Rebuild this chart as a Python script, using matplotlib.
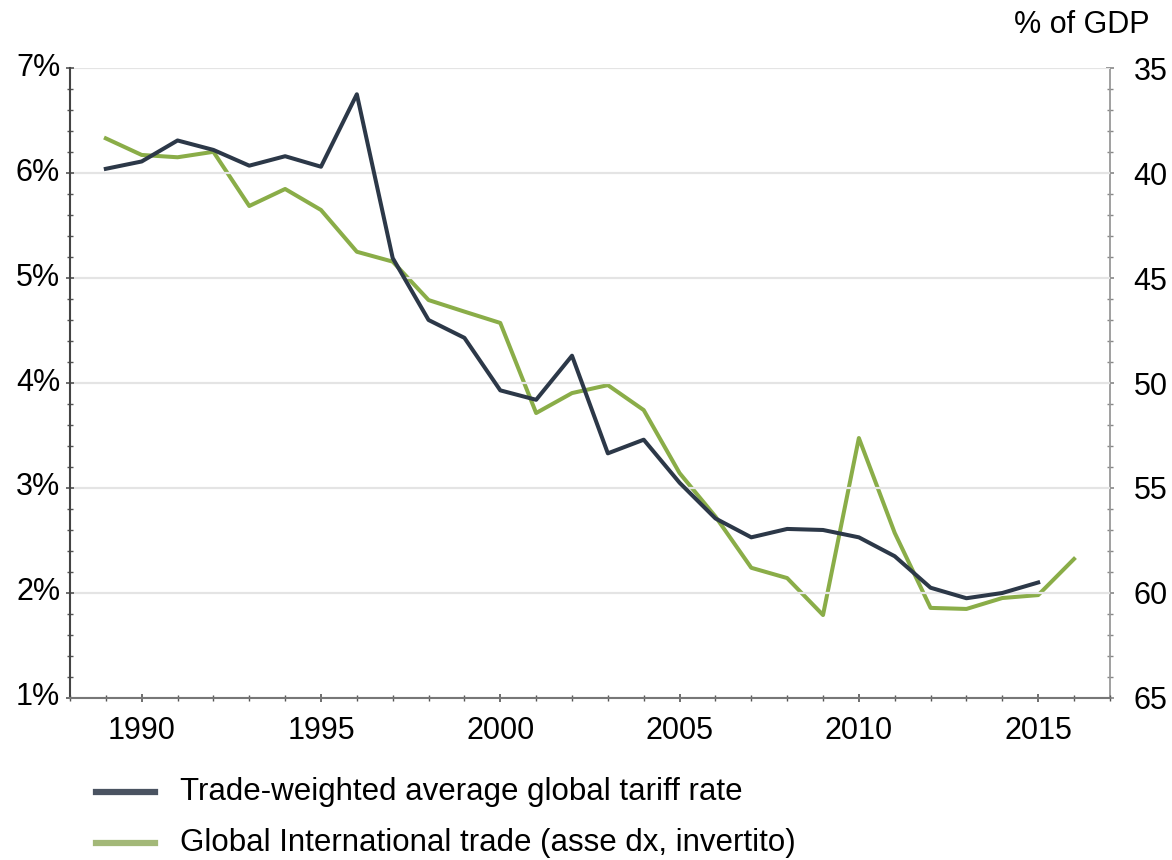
import matplotlib
matplotlib.use("Agg")
import matplotlib.pyplot as plt
import matplotlib.transforms as mtransforms
from matplotlib.lines import Line2D
from matplotlib.ticker import MultipleLocator, FuncFormatter

plt.rcParams['font.family'] = ['Liberation Sans', 'DejaVu Sans']

# Trade-weighted average global tariff rate (%), left axis
tariff_years = list(range(1989, 2016))
tariff_rate = [6.04, 6.11, 6.31, 6.22, 6.07, 6.16, 6.06, 6.75, 5.19, 4.60,
               4.43, 3.93, 3.84, 4.26, 3.33, 3.46, 3.05, 2.71, 2.53, 2.61,
               2.60, 2.53, 2.35, 2.05, 1.95, 2.00, 2.10]

# Global international trade (% of GDP), right axis, inverted
trade_years = list(range(1989, 2017))
trade_gdp = [38.35, 39.14, 39.25, 38.99, 41.57, 40.76, 41.76, 43.75, 44.22, 46.05,
             46.6, 47.14, 51.43, 50.48, 50.1, 51.29, 54.29, 56.36, 58.8, 59.29,
             61.05, 52.62, 57.14, 60.71, 60.76, 60.24, 60.1, 58.38]

series_labels = ["Trade-weighted average global tariff rate",
                 "Global International trade (asse dx, invertito)"]

dark = "#2c3848"
green = "#8aad48"
FS = 22

fig = plt.figure(figsize=(11.72, 8.6), dpi=100)
ax = fig.add_axes([0.0597, 0.1884, 0.8873, 0.7325])
ax2 = ax.twinx()

ax.set_xlim(1988, 2017)
ax.set_ylim(1, 7)
ax2.set_ylim(65, 35)

# Horizontal gridlines at each whole percent
for v in range(1, 8):
    ax.axhline(v, color="#e4e4e4", lw=1.6, zorder=0)

ax2.plot(trade_years, trade_gdp, color=green, lw=2.9, zorder=3)
ax.plot(tariff_years, tariff_rate, color=dark, lw=2.9, zorder=4)
ax.set_zorder(ax2.get_zorder() + 1)
ax.patch.set_visible(False)

ax.xaxis.set_major_locator(MultipleLocator(5))
ax.xaxis.set_minor_locator(MultipleLocator(1))
ax.yaxis.set_major_locator(MultipleLocator(1))
ax.yaxis.set_minor_locator(MultipleLocator(0.2))
ax.yaxis.set_major_formatter(FuncFormatter(lambda v, p: f"{v:.0f}%"))
ax2.yaxis.set_major_locator(MultipleLocator(5))
ax2.yaxis.set_minor_locator(MultipleLocator(1))

for a in (ax, ax2):
    a.spines['top'].set_visible(False)
ax.spines['right'].set_visible(False)
ax2.spines['left'].set_visible(False)
ax2.spines['bottom'].set_visible(False)
ax.spines['left'].set_color("#444444")
ax.spines['bottom'].set_color("#777777")
ax2.spines['right'].set_color("#999999")
for s in ('left', 'bottom'):
    ax.spines[s].set_linewidth(1.5)
ax2.spines['right'].set_linewidth(1.3)

ax.tick_params(axis='both', which='both', direction='inout', colors="#555555",
               labelcolor="black", labelsize=FS)
ax.tick_params(axis='both', which='major', length=6, width=1.2)
ax.tick_params(axis='both', which='minor', length=5, width=1.0)
ax.tick_params(axis='y', pad=4)
ax.tick_params(axis='x', pad=10)
ax2.tick_params(axis='y', which='both', direction='inout', colors="#888888",
                labelcolor="black", labelsize=FS, pad=14)
ax2.tick_params(axis='y', which='major', length=6, width=1.2)
ax2.tick_params(axis='y', which='minor', length=5, width=1.0)

# Nudge the left percentage labels slightly upward
lift = mtransforms.ScaledTranslation(0, 4 / 100, fig.dpi_scale_trans)
for lbl in ax.get_yticklabels():
    lbl.set_transform(lbl.get_transform() + lift)

fig.text(0.981, 0.971, "% of GDP", ha='right', va='center', fontsize=FS)

# Legend below the plot
legend_rows = [(0.0791, "#4a5361"), (0.0198, "#a3b878")]
for (y, handle_color), label in zip(legend_rows, series_labels):
    fig.add_artist(Line2D([0.0819, 0.1323], [y, y], color=handle_color, lw=4.5,
                          transform=fig.transFigure))
    fig.text(0.1536, y, label, ha='left', va='center', fontsize=22.5)

fig.savefig("out.png", dpi=100, facecolor="white")
